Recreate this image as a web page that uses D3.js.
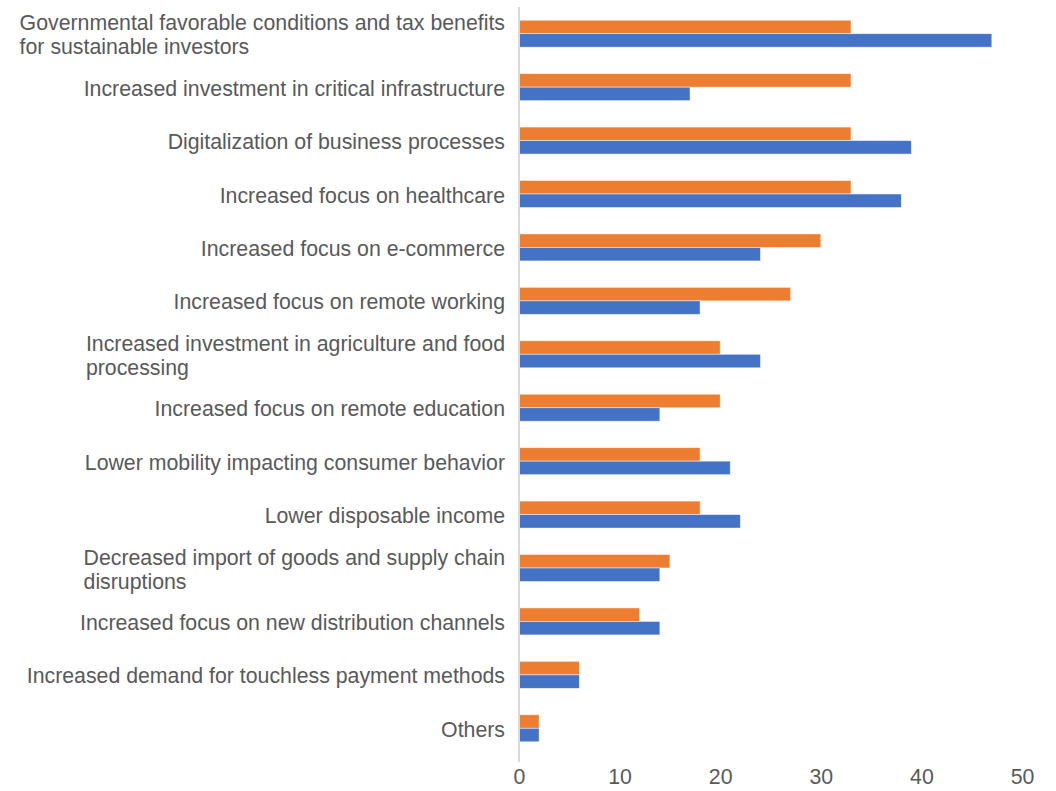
<!DOCTYPE html>
<html>
<head>
<meta charset="utf-8">
<script src="https://cdn.jsdelivr.net/npm/d3@7"></script>
<style>
  html, body { margin: 0; padding: 0; background: #fff; }
  svg { display: block; }
  text { font-family: "Liberation Sans", Arial, Helvetica, sans-serif; fill: #595959; }
</style>
</head>
<body>
<svg id="chart" width="1056" height="791"></svg>
<script>
const categories = [
  "Governmental favorable conditions and tax benefits\nfor sustainable investors",
  "Increased investment in critical infrastructure",
  "Digitalization of business processes",
  "Increased focus on healthcare",
  "Increased focus on e-commerce",
  "Increased focus on remote working",
  "Increased investment in agriculture and food\nprocessing",
  "Increased focus on remote education",
  "Lower mobility impacting consumer behavior",
  "Lower disposable income",
  "Decreased import of goods and supply chain\ndisruptions",
  "Increased focus on new distribution channels",
  "Increased demand for touchless payment methods",
  "Others"
];
const orangeValues = [33, 33, 33, 33, 30, 27, 20, 20, 18, 18, 15, 12, 6, 2];
const blueValues   = [47, 17, 39, 38, 24, 18, 24, 14, 21, 22, 14, 14, 6, 2];
const seriesKeys = ["orange", "blue"];
const seriesColors = ["#ED7D31", "#4472C4"];
const xTicks = [0, 10, 20, 30, 40, 50];

const FONT = '"Liberation Sans", Arial, Helvetica, sans-serif';
const FS = "21.3px";

const svg = d3.select("#chart");
const x = d3.scaleLinear().domain([0, 50]).range([519, 1022]);
const y = d3.scaleBand().domain(d3.range(categories.length)).range([7, 755]).paddingInner(0.495).paddingOuter(0.2475);
const ySub = d3.scaleBand().domain(seriesKeys).range([0, y.bandwidth()]);
const color = d3.scaleOrdinal().domain(seriesKeys).range(seriesColors);

const rows = categories.map((c, i) => ({ i, values: [
  { key: "orange", v: orangeValues[i] },
  { key: "blue", v: blueValues[i] }
]}));

const g = svg.append("g");
const groups = g.selectAll("g.cat").data(rows).join("g")
  .attr("class", "cat")
  .attr("transform", d => `translate(0,${y(d.i)})`);
groups.selectAll("rect").data(d => d.values).join("rect")
  .attr("x", x(0))
  .attr("y", d => ySub(d.key))
  .attr("width", d => x(d.v) - x(0))
  .attr("height", ySub.bandwidth())
  .attr("fill", d => color(d.key))
  .attr("stroke", "rgba(255,255,255,0.6)")
  .attr("stroke-width", 0.8);

// vertical axis line
svg.append("line")
  .attr("x1", x(0)).attr("x2", x(0))
  .attr("y1", 7).attr("y2", 762)
  .attr("stroke", "#d9d9d9").attr("stroke-width", 2);

// x axis tick labels
const xAxis = d3.axisBottom(x).tickValues(xTicks).tickSize(0).tickPadding(0);
const xg = svg.append("g").attr("transform", "translate(0,769)").call(xAxis);
xg.select(".domain").remove();
xg.selectAll("text")
  .attr("dy", "0.71em")
  .style("font-size", FS)
  .style("fill", "#595959")
  .style("font-family", FONT);

// category labels
const lineH = 24;
const labelRight = 505;
categories.forEach((c, i) => {
  const lines = c.split("\n");
  const cy = y(i) + y.bandwidth() / 2 + 1.5;
  const t = svg.append("text")
    .style("font-size", FS)
    .attr("dominant-baseline", "central");
  lines.forEach((ln, k) => {
    t.append("tspan")
      .attr("x", 0)
      .attr("y", cy + (k - (lines.length - 1) / 2) * lineH)
      .text(ln);
  });
  const w = t.node().getBBox().width;
  t.attr("transform", `translate(${labelRight - w},0)`);
});
</script>
</body>
</html>
